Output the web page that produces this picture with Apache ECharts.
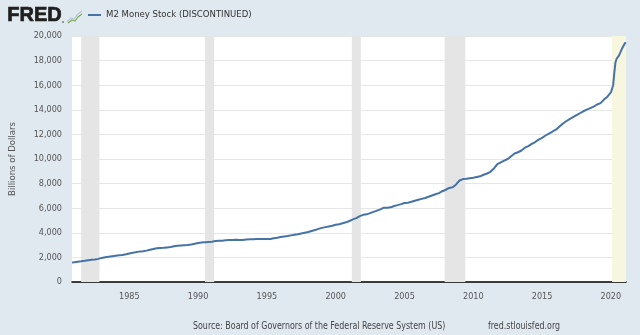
<!DOCTYPE html>
<html>
<head>
<meta charset="utf-8">
<script src="https://cdn.jsdelivr.net/npm/echarts@6/dist/echarts.min.js"></script>
<style>
  html, body { margin: 0; padding: 0; background: #e1e9f0; }
  #chart { width: 640px; height: 335px; }
</style>
</head>
<body>
<div id="chart"></div>
<script>
// M2 money stock, billions of dollars.
// Opening months (Nov, Dec 1980), then quarterly readings (Jan, Apr, Jul, Oct) by decade,
// then monthly readings from Jan 2020 through Feb 2021.
const lead1980 = [1595, 1600];
const quarterly1980s = [
  1607, 1650, 1680, 1720,
  1770, 1800, 1830, 1880,
  1960, 2010, 2050, 2090,
  2130, 2170, 2200, 2250,
  2320, 2370, 2430, 2470,
  2500, 2550, 2620, 2680,
  2740, 2770, 2780, 2810,
  2840, 2900, 2940, 2970,
  2990, 3000, 3050, 3110
];
const quarterly1990s = [
  3170, 3210, 3240, 3260,
  3280, 3330, 3350, 3360,
  3390, 3410, 3410, 3430,
  3420, 3420, 3450, 3470,
  3480, 3490, 3490, 3490,
  3490, 3500, 3560, 3600,
  3650, 3700, 3740, 3790,
  3840, 3890, 3950, 4010,
  4060, 4150, 4220, 4320,
  4400, 4460, 4520, 4580
];
const quarterly2000s = [
  4660, 4700, 4780, 4850,
  4960, 5090, 5190, 5360,
  5460, 5500, 5600, 5700,
  5800, 5900, 6040, 6040,
  6070, 6180, 6250, 6330,
  6420, 6450, 6520, 6610,
  6690, 6760, 6830, 6930,
  7030, 7130, 7230, 7380,
  7500, 7650, 7700, 7930,
  8250, 8370, 8400, 8440
];
const quarterly2010s = [
  8470, 8530, 8590, 8720,
  8820, 8960, 9230, 9580,
  9720, 9870, 10000, 10230,
  10450, 10550, 10690, 10920,
  11050, 11230, 11380, 11580,
  11720, 11910, 12070, 12220,
  12380, 12620, 12860, 13070,
  13240, 13400, 13560, 13720,
  13880, 14010, 14130, 14260,
  14430, 14540, 14830, 15070
];
const monthly2020on = [
  15410, 15450, 16000, 17000, 17850, 18150,
  18290, 18400, 18610, 18830, 19020, 19130,
  19370, 19480
];

// Recession periods (decimal years); the last one is still marked provisional.
const recessions = [
  [1981.5, 1982.83],
  [1990.5, 1991.17],
  [2001.17, 2001.83],
  [2007.92, 2009.42]
];
const provisionalRecession = [2020.08, 2021.1];

const yearLabels = [1985, 1990, 1995, 2000, 2005, 2010, 2015, 2020];
const yTicks = { min: 0, max: 20000, step: 2000 };
const xRange = { min: 1980.833, max: 2021.1 };

// Turn the arrays into [decimal year, value] pairs.
const monthPos = (year, month) => year + (month - 1) / 12;
const series = [];
lead1980.forEach((v, i) => series.push([monthPos(1980, 11 + i), v]));
[[1981, quarterly1980s], [1990, quarterly1990s], [2000, quarterly2000s], [2010, quarterly2010s]]
  .forEach(([y0, arr]) => {
    arr.forEach((v, i) => series.push([monthPos(y0 + Math.floor(i / 4), 1 + (i % 4) * 3), v]));
  });
monthly2020on.forEach((v, i) => series.push([monthPos(2020 + Math.floor(i / 12), 1 + (i % 12)), v]));

const fmt = v => String(v).replace(/\B(?=(\d{3})+(?!\d))/g, ',');
const labelFont = '"DejaVu Sans Condensed", "Open Sans", sans-serif';

const chart = echarts.init(document.getElementById('chart'), null, { renderer: 'canvas' });
chart.setOption({
  backgroundColor: '#e1e9f0',
  animation: false,
  grid: {
    left: 70, right: 14, top: 36, bottom: 53,
    show: true, backgroundColor: '#ffffff', borderWidth: 0
  },
  legend: {
    left: 88, top: 10, padding: 0,
    itemWidth: 13, itemHeight: 2,
    icon: 'rect',
    textStyle: { fontFamily: labelFont, fontSize: 9.5, color: '#333' },
    data: ['M2 Money Stock (DISCONTINUED)']
  },
  xAxis: {
    type: 'value',
    min: xRange.min, max: xRange.max,
    splitLine: { show: false },
    axisTick: { show: false },
    axisLine: { show: true, lineStyle: { color: '#000', width: 1.5 } },
    axisLabel: {
      customValues: yearLabels,
      margin: 10,
      fontFamily: labelFont, fontSize: 9, color: '#555',
      formatter: v => String(Math.round(v))
    }
  },
  yAxis: {
    type: 'value',
    min: yTicks.min, max: yTicks.max, interval: yTicks.step,
    name: 'Billions of Dollars',
    nameLocation: 'middle', nameGap: 54,
    nameTextStyle: { fontFamily: labelFont, fontSize: 9.5, color: '#555' },
    axisLine: { show: false },
    axisTick: { show: false },
    splitLine: { lineStyle: { color: '#e6e6e6', width: 1 } },
    axisLabel: {
      margin: 10,
      fontFamily: labelFont, fontSize: 9, color: '#555',
      formatter: v => fmt(v)
    }
  },
  series: [
    {
      name: 'M2 Money Stock (DISCONTINUED)',
      type: 'line',
      data: series,
      showSymbol: false,
      color: '#4572a7',
      lineStyle: { color: '#4572a7', width: 2 },
      z: 5,
      markArea: {
        silent: true,
        z: 1,
        data: recessions.map(([a, b]) => [
          { xAxis: a, itemStyle: { color: '#e5e5e5' } },
          { xAxis: b }
        ]).concat([[
          { xAxis: provisionalRecession[0], itemStyle: { color: '#f7f6df' } },
          { xAxis: provisionalRecession[1] }
        ]])
      }
    }
  ],
  graphic: [
    {
      type: 'text', left: 7, top: 5,
      style: {
        text: 'FRED', fill: '#1f1f1f', stroke: '#1f1f1f', lineWidth: 0.7,
        font: '900 20px "Liberation Sans", "DejaVu Sans", sans-serif'
      }
    },
    {
      type: 'circle', shape: { cx: 63, cy: 22, r: 0.8 },
      style: { fill: '#333' }
    },
    {
      type: 'polyline',
      shape: { points: [[67, 22], [71, 18], [74, 19], [78, 14], [82, 11]] },
      style: { stroke: '#b8c6d4', lineWidth: 1.2, fill: null }
    },
    {
      type: 'polyline',
      shape: { points: [[68, 23], [72, 20], [75, 21], [78, 17], [82, 14]] },
      style: { stroke: '#7fae5a', lineWidth: 1.2, fill: null }
    },
    {
      type: 'text', x: 193, y: 321, scaleX: 0.88,
      style: {
        text: 'Source: Board of Governors of the Federal Reserve System (US)',
        fill: '#444', font: '10px ' + labelFont
      }
    },
    {
      type: 'text', x: 488, y: 321, scaleX: 0.88,
      style: { text: 'fred.stlouisfed.org', fill: '#444', font: '10px ' + labelFont }
    }
  ]
});
</script>
</body>
</html>
